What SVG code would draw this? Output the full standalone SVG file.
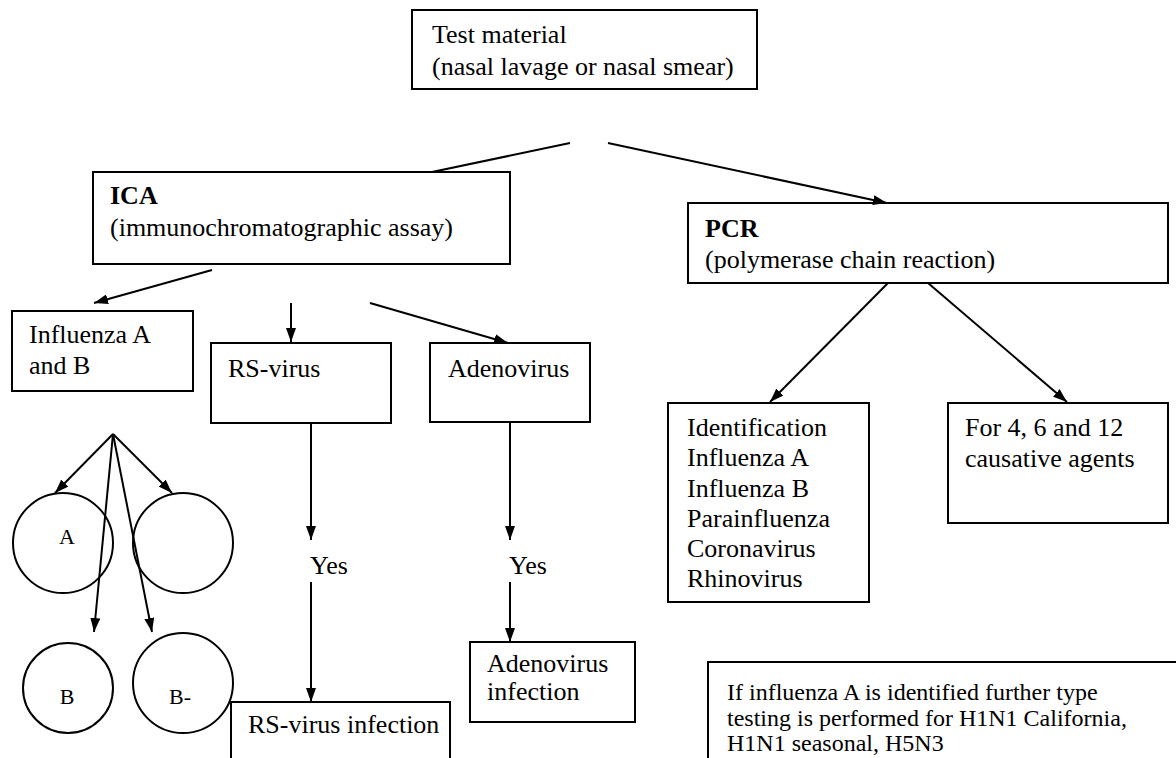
<svg xmlns="http://www.w3.org/2000/svg" width="1176" height="758" viewBox="0 0 1176 758" font-family="'Liberation Serif','Times New Roman',serif">
<style>
text{font-family:"Liberation Serif","Times New Roman",serif;font-size:26px;fill:#000}
.b{font-weight:bold}
.s{font-size:22px}
.m{font-size:24px}
.n rect,.n circle{fill:#fff;stroke:#000;stroke-width:2}
.c line{stroke:#000;stroke-width:2}
</style>
<defs>
<marker id="ah" viewBox="0 0 14 10" refX="14" refY="5" markerWidth="14" markerHeight="10" markerUnits="userSpaceOnUse" orient="auto"><path d="M0,0 L14,5 L0,10 z" fill="#000"/></marker>
</defs>
<rect width="1176" height="758" fill="#fff"/>
<g class="n">
<g id="test"><rect x="412" y="10" width="345" height="79"/><text x="432" y="43">Test material</text><text x="432" y="75">(nasal lavage or nasal smear)</text></g>
<g id="ica"><rect x="93" y="172" width="417" height="92"/><text class="b" x="110" y="204">ICA</text><text x="110" y="236">(immunochromatographic assay)</text></g>
<g id="pcr"><rect x="688" y="203" width="480" height="80"/><text class="b" x="705" y="237">PCR</text><text x="705" y="268">(polymerase chain reaction)</text></g>
<g id="flu"><rect x="12" y="311" width="181" height="80"/><text x="29" y="343">Influenza A</text><text x="29" y="374">and B</text></g>
<g id="rs"><rect x="211" y="343" width="180" height="80"/><text x="228" y="377">RS-virus</text></g>
<g id="adeno"><rect x="430" y="343" width="160" height="79"/><text x="448" y="377">Adenovirus</text></g>
<g id="ident"><rect x="668" y="403" width="201" height="199"/><text x="687" y="436">Identification</text><text x="687" y="466">Influenza A</text><text x="687" y="497">Influenza B</text><text x="687" y="527">Parainfluenza</text><text x="687" y="557">Coronavirus</text><text x="687" y="587">Rhinovirus</text></g>
<g id="agents"><rect x="948" y="403" width="220" height="120"/><text x="965" y="436">For 4, 6 and 12</text><text x="965" y="467">causative agents</text></g>
<g id="circA"><circle cx="63" cy="543" r="50"/><text class="s" x="67" y="544" text-anchor="middle">A</text></g>
<g id="circEmpty"><circle cx="183" cy="543" r="50"/></g>
<g id="circB"><circle cx="68" cy="688" r="45"/><text class="s" x="67" y="704" text-anchor="middle">B</text></g>
<g id="circBm"><circle cx="183" cy="683" r="50"/><text class="s" x="180" y="704" text-anchor="middle">B-</text></g>
<g id="yes1"><text x="310" y="574">Yes</text></g>
<g id="yes2"><text x="509" y="574">Yes</text></g>
<g id="rsinf"><rect x="231" y="702" width="219" height="70"/><text x="248" y="733">RS-virus infection</text></g>
<g id="adinf"><rect x="470" y="642" width="165" height="80"/><text x="487" y="672">Adenovirus</text><text x="487" y="700">infection</text></g>
<g id="note"><rect x="708" y="662" width="480" height="110"/><text class="m" x="727" y="700">If influenza A is identified further type</text><text class="m" x="727" y="726">testing is performed for H1N1 California,</text><text class="m" x="727" y="751">H1N1 seasonal, H5N3</text></g>
</g>
<g class="c" id="connectors">
<line x1="570" y1="143" x2="432" y2="172"/>
<line x1="608" y1="143" x2="887" y2="203" marker-end="url(#ah)"/>
<line x1="212" y1="270" x2="94" y2="303" marker-end="url(#ah)"/>
<line x1="291" y1="303" x2="291" y2="342" marker-end="url(#ah)"/>
<line x1="370" y1="303" x2="508" y2="343" marker-end="url(#ah)"/>
<line x1="113" y1="434" x2="55" y2="493" marker-end="url(#ah)"/>
<line x1="113" y1="434" x2="172" y2="493" marker-end="url(#ah)"/>
<line x1="113" y1="434" x2="94" y2="632" marker-end="url(#ah)"/>
<line x1="113" y1="434" x2="152" y2="632" marker-end="url(#ah)"/>
<line x1="311" y1="423" x2="311" y2="540" marker-end="url(#ah)"/>
<line x1="311" y1="582" x2="311" y2="702" marker-end="url(#ah)"/>
<line x1="510" y1="422" x2="510" y2="540" marker-end="url(#ah)"/>
<line x1="510" y1="582" x2="510" y2="642" marker-end="url(#ah)"/>
<line x1="888" y1="283" x2="770" y2="402" marker-end="url(#ah)"/>
<line x1="928" y1="283" x2="1067" y2="402" marker-end="url(#ah)"/>
</g>
</svg>
